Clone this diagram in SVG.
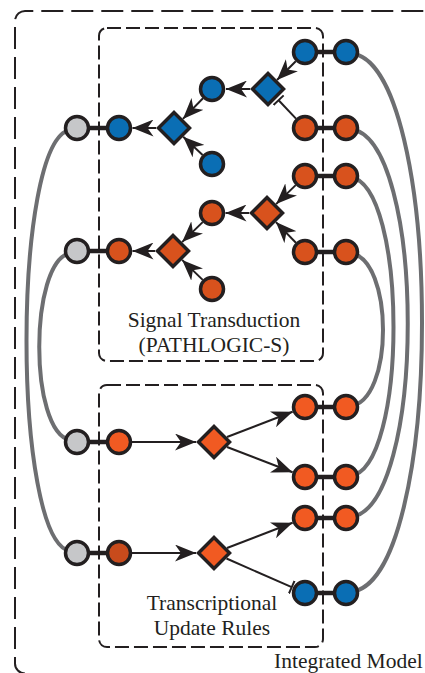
<svg xmlns="http://www.w3.org/2000/svg" width="425" height="673" viewBox="0 0 425 673">
  <style>
    .frame { fill: none; stroke: #231f20; stroke-width: 2; }
    .outer { stroke-dasharray: 22 8; }
    .inner { stroke-dasharray: 14 5; }
    .link { fill: none; stroke: #6d6e71; stroke-width: 4; stroke-linecap: round; }
    .edge { stroke: #231f20; stroke-width: 2; fill: none; }
    .pair { stroke: #231f20; stroke-width: 4.5; }
    .node { stroke: #231f20; stroke-width: 3.5; }
    .blue { fill: #0a6eb4; }
    .orange { fill: #d8521d; }
    .bright { fill: #f15a22; }
    .dark { fill: #c84b1c; }
    .grey { fill: #c6c7c9; }
    .label { font-family: "Liberation Serif", "Times New Roman", serif; font-size: 21.5px; fill: #231f20; }
  </style>
  <defs>
    <marker id="arrow" markerUnits="userSpaceOnUse" viewBox="0 0 22 17" markerWidth="22" markerHeight="17" refX="21" refY="8.5" orient="auto">
      <path d="M0,0 L21,8.5 L0,17 L6,8.5 z" fill="#231f20"/>
    </marker>
    <marker id="tbar" markerUnits="userSpaceOnUse" viewBox="0 0 4 14" markerWidth="4" markerHeight="14" refX="2" refY="7" orient="auto">
      <path d="M2,0 V14" stroke="#231f20" stroke-width="2"/>
    </marker>
  </defs>

  <!-- coupling links between the two sub-models -->
  <g id="links">
    <path class="link" d="M70 130 C12 140, 12 541, 70 551"/>
    <path class="link" d="M70 253 C29 262, 29 432, 70 440"/>
    <path class="link" d="M350 53 C446 60, 446 586, 350 592"/>
    <path class="link" d="M350 129 C427 136, 427 511, 350 517"/>
    <path class="link" d="M350 177 C408 184, 408 470, 350 476"/>
    <path class="link" d="M350 253 C394 258, 394 402, 350 406"/>
  </g>

  <!-- module frames -->
  <g id="integrated-model">
    <path class="frame outer" d="M25 673.5 A10 10 0 0 1 15 663.5 V21 A10 10 0 0 1 25 11 H430"/>
    <text class="label" x="274" y="668">Integrated Model</text>
  </g>
  <g id="signal-transduction">
    <rect class="frame inner" x="99" y="28" width="224" height="333" rx="8"/>
    <text class="label" x="214" y="326.5" text-anchor="middle">Signal Transduction</text>
    <text class="label" x="214" y="351.5" text-anchor="middle">(PATHLOGIC-S)</text>
  </g>
  <g id="transcriptional-rules">
    <rect class="frame inner" x="99" y="385" width="224" height="262" rx="8"/>
    <text class="label" x="212" y="609.5" text-anchor="middle">Transcriptional</text>
    <text class="label" x="212" y="635" text-anchor="middle">Update Rules</text>
  </g>

  <!-- reaction edges -->
  <g id="connectors">
    <line class="edge" x1="295.8" y1="61.2" x2="277" y2="80" marker-end="url(#arrow)"/>
    <line class="edge" x1="250" y1="89" x2="226" y2="89" marker-end="url(#arrow)"/>
    <line class="edge" x1="296" y1="118.6" x2="278.6" y2="100.2" marker-end="url(#tbar)"/>
    <line class="edge" x1="203" y1="98.3" x2="182.9" y2="118.9" marker-end="url(#arrow)"/>
    <line class="edge" x1="156" y1="128" x2="132.5" y2="128" marker-end="url(#arrow)"/>
    <line class="edge" x1="202.6" y1="155.1" x2="183.2" y2="136.7" marker-end="url(#arrow)"/>

    <line class="edge" x1="295.7" y1="185.1" x2="276.1" y2="204.1" marker-end="url(#arrow)"/>
    <line class="edge" x1="249" y1="213" x2="225.5" y2="213" marker-end="url(#arrow)"/>
    <line class="edge" x1="295.9" y1="242.7" x2="275.9" y2="222.1" marker-end="url(#arrow)"/>
    <line class="edge" x1="202.7" y1="222.1" x2="182.1" y2="242.1" marker-end="url(#arrow)"/>
    <line class="edge" x1="155" y1="251" x2="132.5" y2="251" marker-end="url(#arrow)"/>
    <line class="edge" x1="202.7" y1="279.9" x2="182.1" y2="259.9" marker-end="url(#arrow)"/>

    <line class="edge" x1="132" y1="442" x2="196" y2="442" marker-end="url(#arrow)"/>
    <line class="edge" x1="227" y1="437" x2="292.6" y2="411.8" marker-end="url(#arrow)"/>
    <line class="edge" x1="227" y1="447" x2="292.6" y2="472.2" marker-end="url(#arrow)"/>
    <line class="edge" x1="132" y1="553" x2="196" y2="553" marker-end="url(#arrow)"/>
    <line class="edge" x1="227" y1="548" x2="292.6" y2="522.8" marker-end="url(#arrow)"/>
    <line class="edge" x1="226.5" y1="558.5" x2="291.7" y2="587.2" marker-end="url(#tbar)"/>

    <!-- bonds joining shared species -->
    <line class="pair" x1="88" y1="128" x2="108" y2="128"/>
    <line class="pair" x1="88" y1="251" x2="108" y2="251"/>
    <line class="pair" x1="88" y1="442" x2="108" y2="442"/>
    <line class="pair" x1="88" y1="553" x2="108" y2="553"/>
    <line class="pair" x1="316" y1="52" x2="335" y2="52"/>
    <line class="pair" x1="316" y1="128" x2="335" y2="128"/>
    <line class="pair" x1="316" y1="176" x2="335" y2="176"/>
    <line class="pair" x1="316" y1="252" x2="335" y2="252"/>
    <line class="pair" x1="316" y1="407" x2="335" y2="407"/>
    <line class="pair" x1="316" y1="477" x2="335" y2="477"/>
    <line class="pair" x1="316" y1="518" x2="335" y2="518"/>
    <line class="pair" x1="316" y1="593" x2="335" y2="593"/>
  </g>

  <!-- signalling species and reactions -->
  <g id="b1"><circle class="node blue" cx="305" cy="52" r="11.5"/></g>
  <g id="b1r"><circle class="node blue" cx="346" cy="52" r="11.5"/></g>
  <g id="d1"><polygon class="node blue" points="268,73.5 283.5,89 268,104.5 252.5,89"/></g>
  <g id="b2"><circle class="node blue" cx="212" cy="89" r="11.5"/></g>
  <g id="o1"><circle class="node orange" cx="305" cy="128" r="11.5"/></g>
  <g id="o1r"><circle class="node orange" cx="346" cy="128" r="11.5"/></g>
  <g id="d2"><polygon class="node blue" points="174,112.5 189.5,128 174,143.5 158.5,128"/></g>
  <g id="b3"><circle class="node blue" cx="119" cy="128" r="11.5"/></g>
  <g id="g1"><circle class="node grey" cx="77" cy="128" r="11.5"/></g>
  <g id="b4"><circle class="node blue" cx="212" cy="164" r="11.5"/></g>

  <g id="o2"><circle class="node orange" cx="305" cy="176" r="11.5"/></g>
  <g id="o2r"><circle class="node orange" cx="346" cy="176" r="11.5"/></g>
  <g id="d3"><polygon class="node orange" points="267,197.5 282.5,213 267,228.5 251.5,213"/></g>
  <g id="o3"><circle class="node orange" cx="212" cy="213" r="11.5"/></g>
  <g id="d4"><polygon class="node orange" points="173,235.5 188.5,251 173,266.5 157.5,251"/></g>
  <g id="o4"><circle class="node orange" cx="119" cy="251" r="11.5"/></g>
  <g id="g2"><circle class="node grey" cx="77" cy="251" r="11.5"/></g>
  <g id="o5"><circle class="node orange" cx="212" cy="289" r="11.5"/></g>
  <g id="o6"><circle class="node orange" cx="305" cy="252" r="11.5"/></g>
  <g id="o6r"><circle class="node orange" cx="346" cy="252" r="11.5"/></g>

  <!-- transcriptional species and rules -->
  <g id="g3"><circle class="node grey" cx="77" cy="442" r="11.5"/></g>
  <g id="o7"><circle class="node bright" cx="119" cy="442" r="11.5"/></g>
  <g id="d5"><polygon class="node bright" points="214,426.5 229.5,442 214,457.5 198.5,442"/></g>
  <g id="o8"><circle class="node bright" cx="305" cy="407" r="11.5"/></g>
  <g id="o8r"><circle class="node bright" cx="346" cy="407" r="11.5"/></g>
  <g id="o9"><circle class="node bright" cx="305" cy="477" r="11.5"/></g>
  <g id="o9r"><circle class="node bright" cx="346" cy="477" r="11.5"/></g>
  <g id="g4"><circle class="node grey" cx="77" cy="553" r="11.5"/></g>
  <g id="o10"><circle class="node dark" cx="119" cy="553" r="11.5"/></g>
  <g id="d6"><polygon class="node bright" points="214,537.5 229.5,553 214,568.5 198.5,553"/></g>
  <g id="o11"><circle class="node bright" cx="305" cy="518" r="11.5"/></g>
  <g id="o11r"><circle class="node bright" cx="346" cy="518" r="11.5"/></g>
  <g id="b5"><circle class="node blue" cx="305" cy="593" r="11.5"/></g>
  <g id="b5r"><circle class="node blue" cx="346" cy="593" r="11.5"/></g>
</svg>
